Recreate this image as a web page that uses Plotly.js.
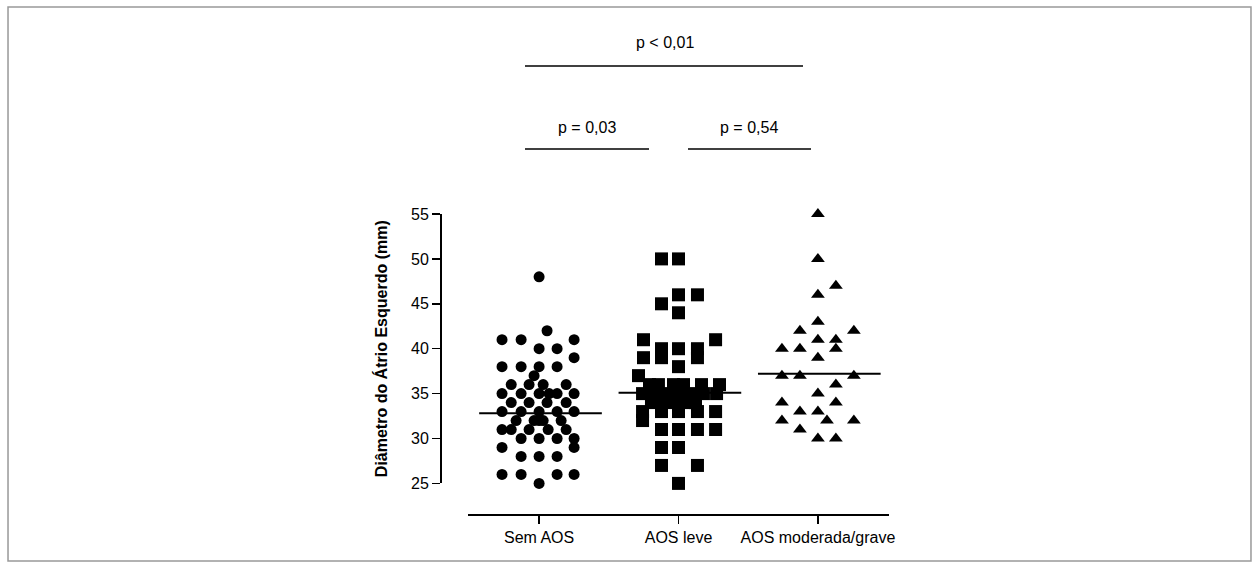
<!DOCTYPE html>
<html><head><meta charset="utf-8">
<script src="https://cdn.plot.ly/plotly-3.0.1.min.js"></script>
<style>html,body{margin:0;padding:0;background:#fff}#chart{width:1259px;height:568px}</style>
</head><body><div id="chart"></div>
<script>
const categories = ['Sem AOS', 'AOS leve', 'AOS moderada/grave'];
const yTicks = [25, 30, 35, 40, 45, 50, 55];
const yTitle = 'Diâmetro do Átrio Esquerdo (mm)';

// Sem AOS (circles): values and horizontal jitter (category units)
const semValues = [48, 42, 41, 41, 41, 40, 40, 39, 38, 38, 38, 38, 37,
  36, 36, 36, 36, 35, 35, 35, 35, 35, 35, 34, 34, 34, 34,
  33, 33, 33, 33, 33, 32, 32, 32, 32, 32, 31, 31, 31, 31, 31,
  30, 30, 30, 30, 29, 29, 28, 28, 28, 26, 26, 26, 26, 25];
const semJitter = [0, 0.057, -0.266, -0.129, 0.251, 0, 0.129, 0.251, -0.266, -0.129, 0, 0.129, -0.036,
  -0.2, -0.072, 0.029, 0.194, -0.266, -0.129, 0, 0.072, 0.129, 0.251, -0.2, -0.072, 0.057, 0.194,
  -0.266, -0.129, 0, 0.129, 0.251, -0.165, -0.036, 0, 0.029, 0.158, -0.266, -0.2, -0.072, 0.065, 0.194,
  -0.129, 0, 0.129, 0.251, -0.266, 0.251, -0.129, 0, 0.129, -0.266, -0.129, 0.129, 0.251, 0];

// AOS leve (squares)
const leveValues = [50, 50, 46, 46, 45, 44, 41, 41, 40, 40, 40, 39, 39, 39, 38, 37,
  36, 36, 36, 36, 36, 36, 35, 35, 35, 35, 35, 35, 35, 34, 34, 34, 34, 34,
  33, 33, 33, 33, 33, 32, 31, 31, 31, 31, 29, 29, 27, 27, 25];
const leveJitter = [-0.122, 0, 0, 0.136, -0.122, 0, -0.251, 0.266, -0.122, 0, 0.136, -0.251, -0.122, 0.136, 0, -0.287,
  -0.208, -0.144, -0.036, 0.036, 0.165, 0.294, -0.258, -0.172, -0.086, 0, 0.086, 0.179, 0.273, -0.194, -0.122, -0.043, 0.043, 0.122,
  -0.258, -0.122, 0, 0.136, 0.266, -0.258, -0.122, 0, 0.136, 0.266, -0.122, 0, -0.122, 0.136, 0];

// AOS moderada/grave (triangles)
const gravValues = [55, 50, 47, 46, 43, 42, 42, 41, 41, 40, 40, 40, 39,
  37, 37, 37, 36, 35, 34, 34, 33, 33, 32, 32, 32, 31, 30, 30];
const gravJitter = [0, 0, 0.129, 0, 0, -0.129, 0.258, 0, 0.129, -0.258, -0.129, 0.129, 0,
  -0.258, -0.129, 0.258, 0.129, 0, -0.258, 0.129, -0.129, 0, -0.258, 0.065, 0.258, -0.129, 0, 0.129];

// median lines
const medians = [32.8, 35.1, 37.2];

// p-value labels
const pTexts = ['p < 0,01', 'p = 0,03', 'p = 0,54'];

const groups = [
  {values: semValues, jitter: semJitter, symbol: 'circle', size: 11},
  {values: leveValues, jitter: leveJitter, symbol: 'square', size: 13},
  {values: gravValues, jitter: gravJitter, symbol: 'triangle-up', size: 12}
];

const traces = [];
groups.forEach((g, i) => {
  traces.push({
    type: 'scatter', mode: 'markers',
    x: g.values.map((v, k) => i + g.jitter[k]),
    y: g.values,
    name: categories[i],
    cliponaxis: false,
    marker: {symbol: g.symbol, size: g.size, color: '#000', line: {width: 0}},
    hovertemplate: categories[i] + ': %{y}<extra></extra>'
  });
});
medians.forEach((m, i) => {
  traces.push({
    type: 'scatter', mode: 'lines',
    x: [i - 0.43, i + 0.45], y: [m, m],
    cliponaxis: false,
    line: {color: '#000', width: 2},
    hoverinfo: 'skip'
  });
});

const fontFam = '"Liberation Sans", Arial, Helvetica, sans-serif';
const lineStyle = {color: '#000', width: 1.5};

const layout = {
  width: 1259, height: 568,
  margin: {l: 440, r: 370, t: 214, b: 54},
  paper_bgcolor: '#fff', plot_bgcolor: 'rgba(0,0,0,0)',
  showlegend: false,
  font: {family: fontFam, size: 16, color: '#000'},
  xaxis: {
    domain: [0.0624, 1], range: [-0.51, 2.51],
    anchor: 'free', position: 0,
    tickmode: 'array', tickvals: [0, 1, 2], ticktext: categories,
    showline: true, linecolor: '#000', linewidth: 1.5,
    ticks: 'outside', ticklen: 8, tickwidth: 1.5, tickcolor: '#000',
    showgrid: false, zeroline: false, fixedrange: true,
    tickfont: {size: 16, color: '#000'}
  },
  yaxis: {
    domain: [0.102, 1], range: [25, 55],
    anchor: 'free', position: 0,
    tickmode: 'array', tickvals: yTicks,
    showline: true, linecolor: '#000', linewidth: 1.5,
    ticks: 'outside', ticklen: 8, tickwidth: 1.5, tickcolor: '#000',
    showgrid: false, zeroline: false, fixedrange: true,
    tickfont: {size: 16, color: '#000'},
    title: {text: yTitle, font: {size: 16, weight: 'bold', color: '#000'}, standoff: 18}
  },
  shapes: [
    {type: 'rect', xref: 'paper', yref: 'paper', x0: -0.9621, x1: 1.8062, y0: -0.1567, y1: 1.69,
      line: {color: '#999', width: 1.5}, fillcolor: 'rgba(0,0,0,0)'},
    {type: 'line', xref: 'paper', yref: 'paper', x0: 0.1893, x1: 0.8085, y0: 1.4933, y1: 1.4933, line: lineStyle},
    {type: 'line', xref: 'paper', yref: 'paper', x0: 0.1893, x1: 0.4655, y0: 1.2167, y1: 1.2167, line: lineStyle},
    {type: 'line', xref: 'paper', yref: 'paper', x0: 0.5523, x1: 0.8263, y0: 1.2167, y1: 1.2167, line: lineStyle}
  ],
  annotations: [
    {xref: 'paper', yref: 'paper', x: 0.501, y: 1.573, text: pTexts[0], showarrow: false, xanchor: 'center', yanchor: 'middle', font: {size: 16}},
    {xref: 'paper', yref: 'paper', x: 0.3274, y: 1.2867, text: pTexts[1], showarrow: false, xanchor: 'center', yanchor: 'middle', font: {size: 16}},
    {xref: 'paper', yref: 'paper', x: 0.6882, y: 1.2867, text: pTexts[2], showarrow: false, xanchor: 'center', yanchor: 'middle', font: {size: 16}}
  ]
};

Plotly.newPlot('chart', traces, layout, {displayModeBar: false, staticPlot: true});
</script>
</body></html>
